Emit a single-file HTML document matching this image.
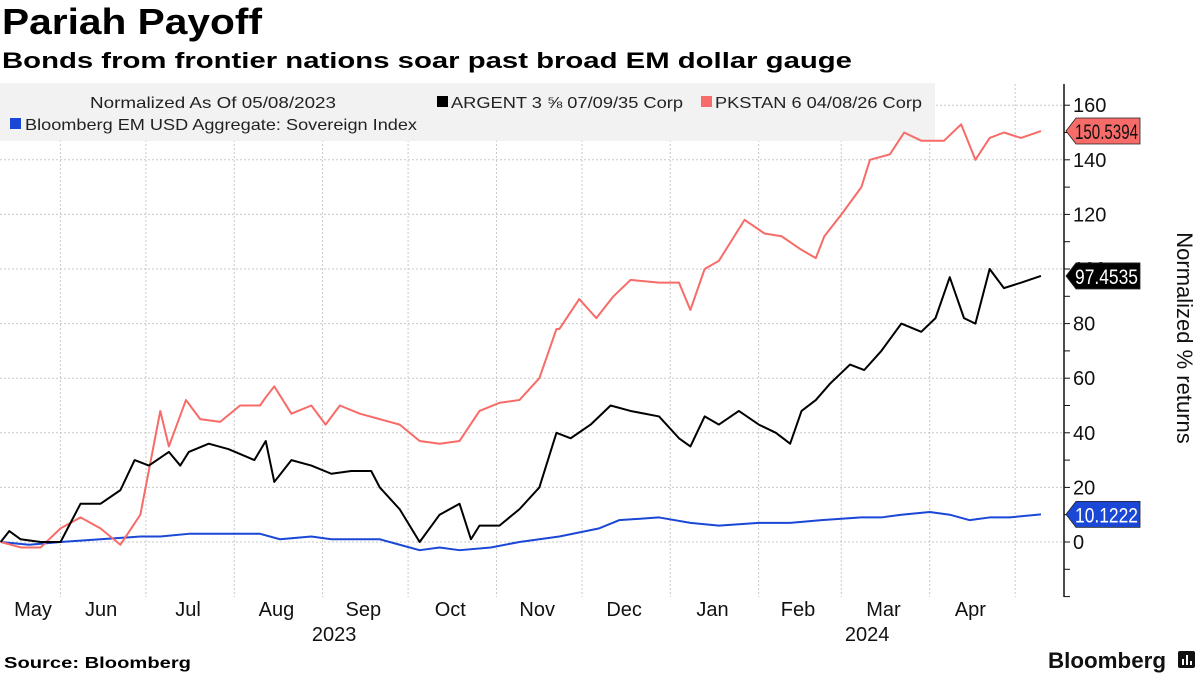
<!DOCTYPE html>
<html><head><meta charset="utf-8"><style>
body{margin:0;background:#fff;width:1200px;height:675px;overflow:hidden;font-family:"Liberation Sans",sans-serif}
svg text{font-family:"Liberation Sans","DejaVu Sans",sans-serif}
</style></head><body>
<svg id="c" width="1200" height="675">
<text x="2" y="34" font-size="36" font-weight="bold" textLength="260" lengthAdjust="spacingAndGlyphs">Pariah Payoff</text>
<text x="2" y="68" font-size="22" font-weight="bold" textLength="850" lengthAdjust="spacingAndGlyphs">Bonds from frontier nations soar past broad EM dollar gauge</text>
<g id="grid"></g>
<rect x="0" y="83" width="935" height="58" fill="#f2f2f2"/>
<g font-size="16" fill="#222">
<text x="90" y="108" textLength="246" lengthAdjust="spacingAndGlyphs">Normalized As Of 05/08/2023</text>
<g><rect x="437" y="96" width="11" height="11" fill="#000"/><text x="451" y="108" textLength="232" lengthAdjust="spacingAndGlyphs">ARGENT 3 ⅝ 07/09/35 Corp</text></g>
<g><rect x="701" y="96" width="11" height="11" fill="#f76b68"/><text x="715" y="108" textLength="207" lengthAdjust="spacingAndGlyphs">PKSTAN 6 04/08/26 Corp</text></g>
<g><rect x="10" y="118" width="11" height="11" fill="#1a47d6"/><text x="25" y="130" textLength="392" lengthAdjust="spacingAndGlyphs">Bloomberg EM USD Aggregate: Sovereign Index</text></g>
</g>
<g id="series"></g>
<g id="axis"></g>
<g id="xaxis" font-size="20" fill="#111"></g>
<text transform="translate(1177,338) rotate(90)" text-anchor="middle" font-size="22" fill="#111">Normalized % returns</text>
<text x="4" y="668" font-size="16" font-weight="bold" textLength="187" lengthAdjust="spacingAndGlyphs">Source: Bloomberg</text>
<text x="1048" y="668" font-size="22" font-weight="bold" fill="#111" textLength="118" lengthAdjust="spacingAndGlyphs">Bloomberg</text>
<g><rect x="1178" y="651" width="17" height="17" rx="2" fill="#111"/><rect x="1182" y="659" width="2" height="6" fill="#fff"/><rect x="1186" y="655" width="2" height="10" fill="#fff"/><rect x="1190" y="661" width="2" height="4" fill="#fff"/></g>
</svg>
<script>
const yTicks=[0,20,40,60,80,100,120,140,160];
const monthLabels=["May","Jun","Jul","Aug","Sep","Oct","Nov","Dec","Jan","Feb","Mar","Apr"];
const monthStartDays=[-7,24,54,85,116,146,177,207,238,269,298,329,359];
const yearLabels=["2023","2024"];
const yearDays=[119,306];
const pkDays=[2,9,16,23,30,37,44,51,58,61,67,72,79,86,93,95,98,104,111,116,121,128,135,142,149,156,163,170,177,184,191,197,198,205,211,217,223,233,240,244,249,254,263,270,276,283,288,291,297,304,307,314,319,325,333,339,344,349,354,360,367];
const pkVals=[0,-2,-2,5,9,5,-1,10,48,35,52,45,44,50,50,53,57,47,50,43,50,47,45,43,37,36,37,48,51,52,60,78,78,89,82,90,96,95,95,85,100,103,118,113,112,107,104,112,120,130,140,142,150,147,147,153,140,148,150,148,150.5394];
const arDays=[2,5,9,16,23,30,37,44,49,54,61,65,68,75,82,91,95,98,104,111,118,125,132,135,142,149,156,163,167,170,177,184,191,197,202,209,216,223,233,240,244,249,254,261,268,274,279,283,288,293,300,305,311,318,325,330,335,340,344,349,354,360,367];
const arVals=[0,4,1,0,0,14,14,19,30,28,33,28,33,36,34,30,37,22,30,28,25,26,26,20,12,0,10,14,1,6,6,12,20,40,38,43,50,48,46,38,35,46,43,48,43,40,36,48,52,58,65,63,70,80,77,82,97,82,80,100,93,95,97.4535];
const emDays=[2,12,23,37,51,58,68,82,93,100,111,118,128,135,142,149,156,163,174,184,198,212,219,233,244,254,268,279,290,304,311,318,328,335,342,349,356,367];
const emVals=[0,-1,0,1,2,2,3,3,3,1,2,1,1,1,-1,-3,-2,-3,-2,0,2,5,8,9,7,6,7,7,8,9,9,10,11,10,8,9,9,10.1222];
const NS='http://www.w3.org/2000/svg';
const X=d=>-5+d*2.85, Y=v=>542-v*2.73;
function mk(t,a,p){const e=document.createElementNS(NS,t);for(const k in a)e.setAttribute(k,a[k]);p.appendChild(e);return e;}
const grid=document.getElementById('grid'),axis=document.getElementById('axis'),xa=document.getElementById('xaxis'),ser=document.getElementById('series');
yTicks.forEach(v=>{const l=mk('line',{x1:0,x2:1064,y1:Y(v),y2:Y(v),stroke:'#c8c8c8','stroke-dasharray':'2,2'},grid);


const t=mk('text',{x:1073,y:Y(v)+7,'font-size':20,fill:'#111'},axis);t.textContent=v;

});
for(let v=-20;v<=160;v+=10){const k=mk('line',{x1:1064,x2:1070,y1:Y(v),y2:Y(v),stroke:'#111'},axis);

}
mk('line',{x1:1064,x2:1064,y1:84,y2:597,stroke:'#111','stroke-width':1.5},axis);
monthStartDays.slice(1).forEach(d=>{const l=mk('line',{x1:X(d)-3,x2:X(d)-3,y1:84,y2:597,stroke:'#c8c8c8','stroke-dasharray':'2,2'},grid);

});
monthLabels.forEach((m,i)=>{const c=(Math.max(X(monthStartDays[i]),0)+X(monthStartDays[i+1]))/2-5;const t=mk('text',{x:i==0?33:c,y:616,'text-anchor':'middle'},xa);t.textContent=m;

});
yearLabels.forEach((y,i)=>{const t=mk('text',{x:X(yearDays[i]),y:641,'text-anchor':'middle'},xa);t.textContent=y;

});
function line(days,vals,col,name){const p=mk('polyline',{points:days.map((d,i)=>X(d)+','+Y(vals[i])).join(' '),fill:'none',stroke:col,'stroke-width':2,'stroke-linejoin':'round'},ser);

}
line(emDays,emVals,'#1a47d6','line-em-index');
line(pkDays,pkVals,'#f76b68','line-pkstan');
line(arDays,arVals,'#000','line-argent');
function tag(v,bg,fg,name){const y=Y(v);const g=mk('g',{},axis);


mk('polygon',{points:`1066,${y} 1076,${y-13} 1140,${y-13} 1140,${y+13} 1076,${y+13}`,fill:bg,stroke:'#222','stroke-width':0.8},g);
const t=mk('text',{x:1075,y:y+8,'font-size':21,fill:fg,textLength:63,lengthAdjust:'spacingAndGlyphs'},g);t.textContent=v.toFixed(4);}
tag(pkVals[pkVals.length-1],'#f76b68','#111','tag-pkstan');
tag(arVals[arVals.length-1],'#000','#fff','tag-argent');
tag(emVals[emVals.length-1],'#1a47d6','#fff','tag-em-index');
</script>
</body></html>
